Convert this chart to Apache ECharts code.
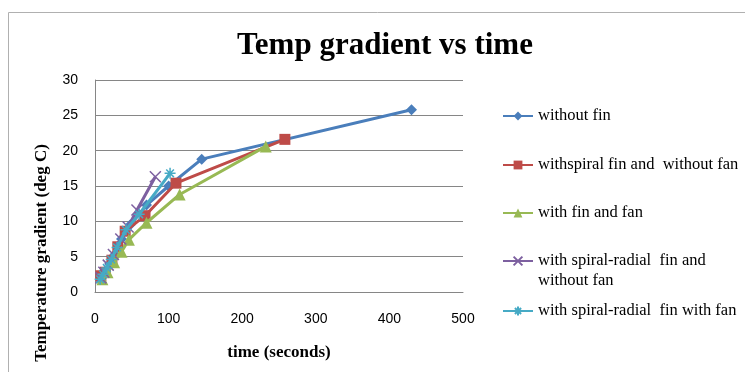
<!DOCTYPE html>
<html><head><meta charset="utf-8">
<script src="https://cdn.jsdelivr.net/npm/echarts@6/dist/echarts.min.js"></script>
<style>html,body{margin:0;padding:0;background:#fff}#c{width:745px;height:372px}</style>
</head><body><div id="c"></div>
<script>
const seriesNames = ['without fin','withspiral fin and  without fan','with fin and fan','with spiral-radial  fin and without fan','with spiral-radial  fin with fan'];
const blueX = [8,14,20,27,36,48,70,100,145,430];
const blueY = [2.2,3.0,4.0,5.3,7.5,9.5,12.3,15.0,18.8,25.8];
const redX = [8,14,23,31,41,68,110,258];
const redY = [2.3,2.8,4.5,6.4,8.6,10.8,15.4,21.6];
const greenX = [10,17,26,36,46,70,115,232];
const greenY = [1.8,2.8,4.2,5.7,7.4,9.8,13.8,20.6];
const purpleX = [8,12,18,25,35,45,57,82];
const purpleY = [2.0,2.8,3.8,5.3,7.5,9.2,11.6,16.3];
const cyanX = [7,11,16,22,30,42,60,102];
const cyanY = [1.8,2.5,3.4,4.6,6.3,8.8,11.0,16.8];
const xTicks = [0,100,200,300,400,500];
const yTicks = [0,5,10,15,20,25,30];

const colors = ['#4A7EBB','#BE4B48','#98B954','#7D60A0','#46AAC5'];
const xs = [blueX, redX, greenX, purpleX, cyanX];
const ys = [blueY, redY, greenY, purpleY, cyanY];
const symbols = ['diamond','rect','triangle',
  'path://M0,0L10,10M10,0L0,10',
  'path://M0,5L10,5M5,0L5,10M1.5,1.5L8.5,8.5M8.5,1.5L1.5,8.5'];
const sizes = [11,11,12,11,11];

const series = seriesNames.map((n,i)=>({
  name:n, type:'line',
  data: xs[i].map((x,j)=>[x, ys[i][j]]),
  symbol: symbols[i], symbolSize: sizes[i],
  lineStyle:{color:colors[i], width:3},
  itemStyle:{color:colors[i], borderColor: i>=3?colors[i]:undefined, borderWidth: i>=3?1.5:0},
  z: 2+i
}));

const legendTops = [106,155,203,231,301];
const legend = seriesNames.map((n,i)=>({
  data:[n],
  left: 502, top: legendTops[i], orient:'vertical', padding:0,
  itemWidth:30, itemHeight:11,
  formatter: name => name===seriesNames[3] ? '\u00a0\nwith spiral-radial  fin and\nwithout fan' : name,
  textStyle:{fontFamily:'Liberation Serif', fontSize:16.5, color:'#000', lineHeight:20}
}));

const chart = echarts.init(document.getElementById('c'));
chart.setOption({
  animation:false,
  title:{text:'Temp gradient vs time', left:232, top:25,
    textStyle:{fontFamily:'Liberation Serif', fontWeight:'bold', fontSize:31, color:'#000'}},
  graphic:[{type:'rect', shape:{x:8.5,y:12.5,width:800,height:400}, style:{fill:'none', stroke:'#b0b0b0', lineWidth:1}, silent:true, z:-1}],
  legend: legend,
  grid:{left:95, right:282, top:80, bottom:80},
  xAxis:{type:'value', min:0, max:500, interval:100,
    name:'time (seconds)', nameLocation:'middle', nameGap:52,
    nameTextStyle:{fontFamily:'Liberation Serif', fontWeight:'bold', fontSize:17, color:'#000'},
    axisLine:{show:true, lineStyle:{color:'#868686'}}, axisTick:{show:false},
    axisLabel:{margin:20, fontFamily:'Liberation Sans', fontSize:14, color:'#000'},
    splitLine:{show:false}},
  yAxis:{type:'value', min:0, max:30, interval:5,
    name:'Temperature gradient (deg C)', nameLocation:'middle', nameGap:45,
    nameTextStyle:{fontFamily:'Liberation Serif', fontWeight:'bold', fontSize:17, color:'#000', padding:[0,134,0,0]},
    axisLine:{show:true, lineStyle:{color:'#868686'}}, axisTick:{show:false},
    axisLabel:{margin:17, fontFamily:'Liberation Sans', fontSize:14, color:'#000'},
    splitLine:{show:true, lineStyle:{color:'#868686', width:1}}},
  series: series
});
</script></body></html>
